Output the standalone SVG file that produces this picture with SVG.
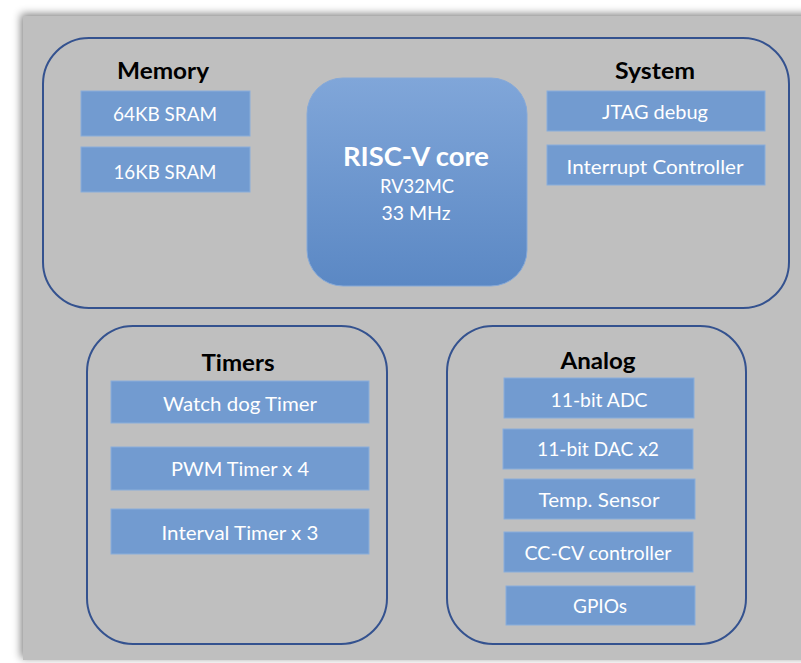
<svg xmlns="http://www.w3.org/2000/svg" width="801" height="663" viewBox="0 0 801 663">
<defs>
<filter id="sh" x="-5%" y="-5%" width="110%" height="110%">
<feGaussianBlur in="SourceAlpha" stdDeviation="4"/>
<feOffset dx="-2" dy="-2" result="b"/>
<feComponentTransfer><feFuncA type="linear" slope="0.5"/></feComponentTransfer>
<feMerge><feMergeNode/><feMergeNode in="SourceGraphic"/></feMerge>
</filter>
<linearGradient id="core" x1="0" y1="0" x2="0" y2="1">
<stop offset="0" stop-color="#80a6d9"/>
<stop offset="1" stop-color="#5b88c4"/>
</linearGradient>
<style>
.grp{fill:none;stroke:#34528f;stroke-width:2}
.box{fill:#729bd0;stroke:#8aaedb;stroke-width:1}
.t{font-family:Lato,"Liberation Sans",sans-serif;fill:#fff;font-size:19px;text-anchor:middle}
.h{font-family:Lato,"Liberation Sans",sans-serif;fill:#000;font-size:23px;font-weight:bold;text-anchor:middle}
</style>
</defs>
<rect x="0" y="0" width="801" height="663" fill="#fff"/>
<rect x="23" y="16" width="790" height="644" fill="#bfbfbf" filter="url(#sh)"/>

<g id="top-container">
<rect class="grp" x="43" y="38" width="746" height="270" rx="46" ry="46"/>
</g>
<g id="memory">
<text class="h" x="163" y="79" textLength="92" lengthAdjust="spacingAndGlyphs">Memory</text>
</g>
<g id="sram64">
<rect class="box" x="81" y="91" width="169" height="45"/>
<text class="t" x="165" y="121" textLength="104" lengthAdjust="spacingAndGlyphs">64KB SRAM</text>
</g>
<g id="sram16">
<rect class="box" x="81" y="147" width="169" height="45"/>
<text class="t" x="165" y="179" textLength="103" lengthAdjust="spacingAndGlyphs">16KB SRAM</text>
</g>
<g id="core-node">
<rect x="307" y="78" width="220" height="208" rx="36" ry="36" fill="url(#core)" stroke="#86a9d8" stroke-width="1"/>
<text x="416" y="166" font-family="Lato,'Liberation Sans',sans-serif" font-weight="bold" font-size="26" fill="#fff" text-anchor="middle" textLength="146" lengthAdjust="spacingAndGlyphs">RISC-V core</text>
<text class="t" x="417" y="193" textLength="74" lengthAdjust="spacingAndGlyphs">RV32MC</text>
<text class="t" x="416" y="220" textLength="69" lengthAdjust="spacingAndGlyphs">33 MHz</text>
</g>
<g id="system">
<text class="h" x="655" y="79" textLength="80" lengthAdjust="spacingAndGlyphs">System</text>
</g>
<g id="jtag">
<rect class="box" x="547" y="91" width="218" height="40"/>
<text class="t" x="655" y="119" textLength="106" lengthAdjust="spacingAndGlyphs">JTAG debug</text>
</g>
<g id="interrupt">
<rect class="box" x="547" y="145" width="218" height="40"/>
<text class="t" x="655" y="174" textLength="177" lengthAdjust="spacingAndGlyphs">Interrupt Controller</text>
</g>

<g id="timers">
<rect class="grp" x="87" y="326" width="300" height="318" rx="46" ry="46"/>
<text class="h" x="238" y="371" textLength="73" lengthAdjust="spacingAndGlyphs">Timers</text>
</g>
<g id="watchdog">
<rect class="box" x="111" y="381" width="258" height="42"/>
<text class="t" x="240" y="411" textLength="154" lengthAdjust="spacingAndGlyphs">Watch dog Timer</text>
</g>
<g id="pwm">
<rect class="box" x="111" y="447" width="258" height="43"/>
<text class="t" x="240" y="476" textLength="138" lengthAdjust="spacingAndGlyphs">PWM Timer x 4</text>
</g>
<g id="interval">
<rect class="box" x="111" y="509" width="258" height="45"/>
<text class="t" x="240" y="540" textLength="157" lengthAdjust="spacingAndGlyphs">Interval Timer x 3</text>
</g>

<g id="analog">
<rect class="grp" x="447" y="326" width="299" height="318" rx="46" ry="46"/>
<text class="h" x="598" y="369" textLength="75" lengthAdjust="spacingAndGlyphs">Analog</text>
</g>
<g id="adc">
<rect class="box" x="504" y="378" width="190" height="40"/>
<text class="t" x="599" y="407" textLength="97" lengthAdjust="spacingAndGlyphs">11-bit ADC</text>
</g>
<g id="dac">
<rect class="box" x="503" y="429" width="190" height="40"/>
<text class="t" x="598" y="456" textLength="122" lengthAdjust="spacingAndGlyphs">11-bit DAC x2</text>
</g>
<g id="temp">
<rect class="box" x="504" y="479" width="191" height="40"/>
<text class="t" x="599" y="507" textLength="121" lengthAdjust="spacingAndGlyphs">Temp. Sensor</text>
</g>
<g id="cccv">
<rect class="box" x="504" y="532" width="189" height="40"/>
<text class="t" x="598" y="560" textLength="147" lengthAdjust="spacingAndGlyphs">CC-CV controller</text>
</g>
<g id="gpios">
<rect class="box" x="506" y="586" width="189" height="39"/>
<text class="t" x="600" y="613" textLength="54" lengthAdjust="spacingAndGlyphs">GPIOs</text>
</g>
<g id="connectors"></g>
</svg>
